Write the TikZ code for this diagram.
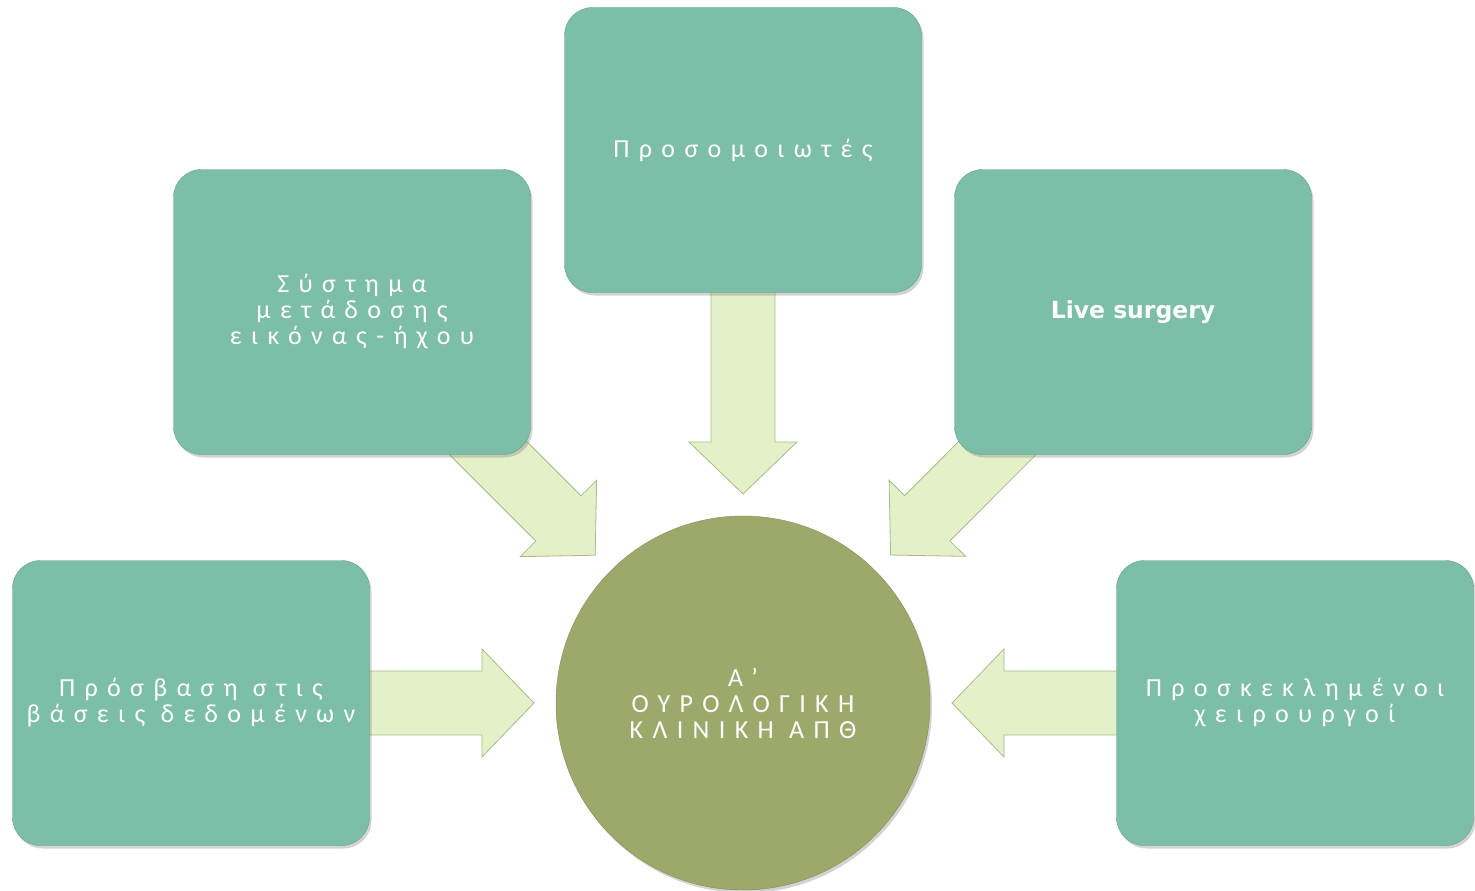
\documentclass[tikz,border=0pt]{standalone}
\usepackage{fontspec}
\setmainfont{Carlito}
\newfontfamily\spacedfont[LetterSpace=36]{Carlito}
\newfontfamily\livefont{DejaVu Sans}
\usetikzlibrary{calc,shadows,backgrounds}
\definecolor{boxfill}{RGB}{124,190,168}
\definecolor{boxline}{RGB}{96,160,140}
\definecolor{hubfill}{RGB}{157,169,107}
\definecolor{hubline}{RGB}{128,140,84}
\definecolor{arrowfill}{RGB}{227,240,200}
\definecolor{arrowline}{RGB}{170,186,140}

\begin{document}
\begin{tikzpicture}[x=1pt, y=-1pt,
    every node/.style={font=\spacedfont\fontsize{26}{26}\selectfont, text=white, align=center},
    box/.style={draw=boxline, fill=boxfill, rounded corners=28pt, minimum width=357pt, minimum height=285pt,
        drop shadow={shadow xshift=2pt, shadow yshift=-3pt, opacity=.35}},
    hubnode/.style={circle, draw=hubline, fill=hubfill, minimum size=374pt,
        drop shadow={shadow xshift=2pt, shadow yshift=-3pt, opacity=.35}},
    blockarrow/.style={draw=arrowline, fill=arrowfill, line width=0.8pt,
        to path={let \p1=($(\tikztotarget)!261pt!(\tikztostart)$), \p2=($(\tikztotarget)!209pt!(\tikztostart)$) in
          ($(\tikztostart)!32pt!90:(\tikztotarget)$) -- ($(\p1)!32pt!90:(\p2)$) -- ($(\p1)!54pt!90:(\p2)$)
          -- (\p2) -- ($(\p1)!54pt!-90:(\p2)$) -- ($(\p1)!32pt!-90:(\p2)$)
          -- ($(\tikztostart)!32pt!-90:(\tikztotarget)$) -- cycle}}]
    \useasboundingbox (0,0) rectangle (1475,891);

    % centre and the five boxes round it
    \node [hubnode] (hub) at (743,703) {Α’\\ΟΥΡΟΛΟΓΙΚΗ\\ΚΛΙΝΙΚΗ ΑΠΘ};
    \node [box] (sim) at (743,150) {Προσομοιωτές};
    \node [box] (stream) at (352,312) {Σύστημα\\μετάδοσης\\εικόνας-ήχου};
    \node [box, font=\livefont\bfseries\fontsize{23.5}{26}\selectfont] (live) at (1133,312) {Live surgery};
    \node [box] (db) at (191,703) {Πρόσβαση στις\\βάσεις δεδομένων};
    \node [box] (guests) at (1295,703) {Προσκεκλημένοι\\χειρουργοί};

    % block arrows behind the boxes
    \begin{scope}[on background layer]
        \draw [blockarrow] (sim) to (hub);
        \draw [blockarrow] (stream) to (hub);
        \draw [blockarrow] (live) to (hub);
        \draw [blockarrow] (db) to (hub);
        \draw [blockarrow] (guests) to (hub);
    \end{scope}
\end{tikzpicture}
\end{document}
